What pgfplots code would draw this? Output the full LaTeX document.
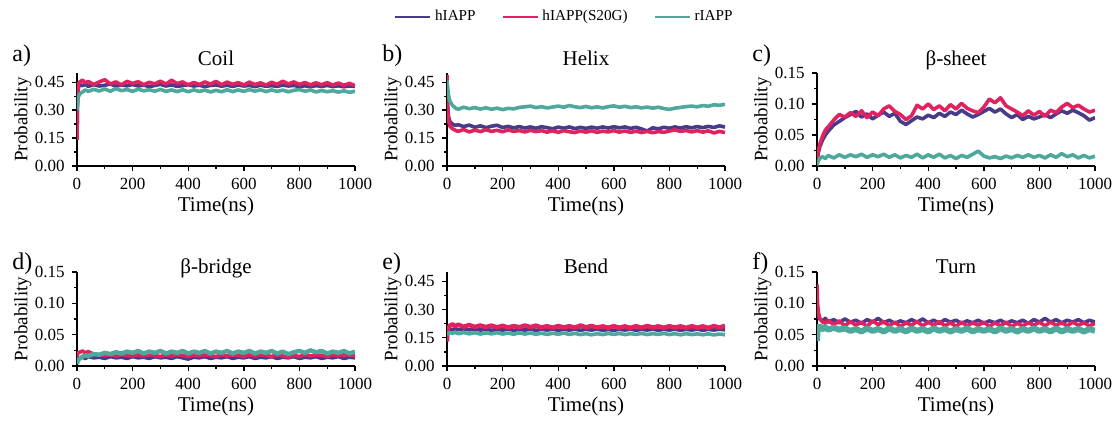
\documentclass[border=0pt]{standalone}
\usepackage{fontspec}
\setmainfont{Liberation Serif}
\usepackage{pgfplots}
\usepackage{pgfplotstable}
\pgfplotsset{compat=1.18}
\definecolor{hcol}{HTML}{4A3A8A}
\definecolor{scol}{HTML}{E2215F}
\definecolor{rcol}{HTML}{4FA89C}

% coil
\pgfplotstableread{
t h s r
0 0.150 0.140 0.300
2 0.360 0.380 0.350
5 0.420 0.440 0.372
10 0.438 0.452 0.388
20 0.432 0.462 0.398
30 0.440 0.446 0.409
40 0.428 0.455 0.401
60 0.437 0.438 0.412
80 0.430 0.452 0.403
100 0.434 0.464 0.414
120 0.441 0.441 0.402
140 0.429 0.452 0.416
160 0.436 0.436 0.405
180 0.431 0.455 0.411
200 0.438 0.444 0.401
220 0.430 0.453 0.413
240 0.435 0.437 0.404
260 0.427 0.450 0.410
280 0.433 0.441 0.402
300 0.439 0.456 0.412
320 0.430 0.440 0.401
340 0.436 0.461 0.409
360 0.428 0.443 0.400
380 0.432 0.452 0.410
400 0.437 0.436 0.399
420 0.430 0.449 0.409
440 0.434 0.438 0.401
460 0.427 0.452 0.408
480 0.433 0.440 0.398
500 0.436 0.455 0.407
520 0.429 0.437 0.399
540 0.434 0.451 0.410
560 0.428 0.439 0.400
580 0.435 0.448 0.409
600 0.430 0.436 0.401
620 0.433 0.451 0.411
640 0.427 0.438 0.402
660 0.434 0.447 0.410
680 0.429 0.435 0.400
700 0.432 0.450 0.409
720 0.428 0.439 0.401
740 0.435 0.456 0.408
760 0.430 0.441 0.399
780 0.433 0.452 0.407
800 0.427 0.438 0.411
820 0.431 0.449 0.402
840 0.426 0.436 0.408
860 0.432 0.447 0.398
880 0.428 0.437 0.406
900 0.433 0.448 0.399
920 0.427 0.435 0.405
940 0.431 0.446 0.397
960 0.426 0.434 0.404
980 0.430 0.444 0.396
1000 0.428 0.432 0.402
}\tabA

% helix
\pgfplotstableread{
t h s r
0 0.480 0.490 0.460
2 0.330 0.320 0.420
5 0.270 0.250 0.385
10 0.240 0.215 0.350
20 0.225 0.200 0.325
30 0.218 0.192 0.312
40 0.222 0.186 0.305
60 0.212 0.196 0.316
80 0.220 0.183 0.308
100 0.208 0.193 0.314
120 0.216 0.185 0.306
140 0.206 0.195 0.313
160 0.214 0.186 0.305
180 0.219 0.192 0.311
200 0.207 0.184 0.303
220 0.213 0.194 0.310
240 0.205 0.186 0.307
260 0.212 0.191 0.315
280 0.204 0.183 0.318
300 0.210 0.192 0.322
320 0.203 0.185 0.314
340 0.211 0.190 0.319
360 0.206 0.182 0.312
380 0.200 0.189 0.317
400 0.209 0.181 0.322
420 0.203 0.190 0.316
440 0.210 0.184 0.325
460 0.201 0.180 0.318
480 0.208 0.188 0.314
500 0.202 0.182 0.320
520 0.209 0.189 0.313
540 0.203 0.181 0.318
560 0.210 0.187 0.312
580 0.204 0.183 0.319
600 0.211 0.190 0.323
620 0.205 0.182 0.316
640 0.210 0.188 0.321
660 0.202 0.181 0.314
680 0.208 0.187 0.318
700 0.199 0.180 0.312
720 0.188 0.186 0.317
740 0.205 0.179 0.311
760 0.200 0.185 0.316
780 0.208 0.181 0.309
800 0.203 0.188 0.304
820 0.210 0.194 0.311
840 0.204 0.186 0.315
860 0.211 0.191 0.319
880 0.205 0.183 0.322
900 0.212 0.190 0.318
920 0.206 0.182 0.325
940 0.213 0.189 0.321
960 0.207 0.178 0.329
980 0.216 0.186 0.326
1000 0.209 0.180 0.332
}\tabB

% beta-sheet
\pgfplotstableread{
t h s r
0 0.002 0.004 0.001
2 0.012 0.016 0.005
5 0.022 0.026 0.009
10 0.031 0.035 0.012
20 0.042 0.048 0.015
30 0.050 0.058 0.012
40 0.056 0.063 0.017
60 0.066 0.074 0.013
80 0.072 0.083 0.018
100 0.078 0.079 0.014
120 0.083 0.086 0.018
140 0.088 0.080 0.015
160 0.079 0.089 0.019
180 0.084 0.078 0.014
200 0.076 0.087 0.018
220 0.082 0.081 0.015
240 0.087 0.092 0.019
260 0.080 0.097 0.014
280 0.085 0.088 0.018
300 0.072 0.083 0.013
320 0.067 0.075 0.017
340 0.073 0.081 0.014
360 0.079 0.098 0.019
380 0.076 0.092 0.013
400 0.082 0.100 0.018
420 0.078 0.091 0.014
440 0.085 0.097 0.019
460 0.080 0.089 0.013
480 0.087 0.099 0.017
500 0.083 0.092 0.012
520 0.090 0.101 0.017
540 0.084 0.093 0.014
560 0.079 0.089 0.019
580 0.083 0.086 0.024
600 0.088 0.095 0.016
620 0.093 0.108 0.013
640 0.087 0.102 0.015
660 0.092 0.110 0.012
680 0.084 0.097 0.016
700 0.078 0.092 0.013
720 0.083 0.087 0.017
740 0.075 0.081 0.014
760 0.080 0.089 0.018
780 0.076 0.082 0.014
800 0.079 0.088 0.017
820 0.083 0.080 0.013
840 0.078 0.090 0.018
860 0.084 0.086 0.014
880 0.089 0.095 0.020
900 0.085 0.101 0.015
920 0.090 0.094 0.018
940 0.086 0.098 0.013
960 0.081 0.092 0.017
980 0.074 0.087 0.013
1000 0.078 0.090 0.016
}\tabC

% beta-bridge
\pgfplotstableread{
t h s r
0 0.008 0.015 0.003
2 0.011 0.019 0.007
5 0.012 0.021 0.010
10 0.013 0.022 0.012
20 0.014 0.024 0.015
30 0.012 0.021 0.017
40 0.015 0.023 0.016
60 0.013 0.019 0.019
80 0.014 0.018 0.018
100 0.012 0.017 0.021
120 0.015 0.018 0.019
140 0.013 0.016 0.022
160 0.014 0.018 0.020
180 0.012 0.017 0.023
200 0.015 0.016 0.021
220 0.013 0.018 0.024
240 0.014 0.016 0.020
260 0.012 0.018 0.023
280 0.015 0.017 0.021
300 0.013 0.015 0.024
320 0.014 0.018 0.020
340 0.012 0.016 0.023
360 0.015 0.018 0.021
380 0.013 0.017 0.024
400 0.011 0.015 0.020
420 0.014 0.018 0.023
440 0.013 0.016 0.021
460 0.015 0.018 0.024
480 0.012 0.017 0.020
500 0.014 0.015 0.023
520 0.013 0.018 0.021
540 0.015 0.016 0.024
560 0.012 0.018 0.020
580 0.014 0.017 0.023
600 0.013 0.015 0.021
620 0.015 0.018 0.024
640 0.012 0.016 0.020
660 0.014 0.018 0.023
680 0.013 0.017 0.021
700 0.015 0.015 0.024
720 0.012 0.018 0.020
740 0.014 0.016 0.023
760 0.013 0.014 0.019
780 0.015 0.017 0.022
800 0.012 0.015 0.024
820 0.014 0.018 0.021
840 0.013 0.016 0.025
860 0.015 0.018 0.022
880 0.012 0.017 0.024
900 0.014 0.015 0.020
920 0.013 0.018 0.023
940 0.015 0.016 0.021
960 0.012 0.018 0.024
980 0.014 0.017 0.020
1000 0.013 0.016 0.023
}\tabD

% bend
\pgfplotstableread{
t h s r
0 0.170 0.130 0.165
2 0.185 0.180 0.170
5 0.192 0.205 0.175
10 0.196 0.215 0.178
20 0.194 0.222 0.174
30 0.199 0.212 0.179
40 0.193 0.220 0.172
60 0.198 0.209 0.178
80 0.192 0.218 0.171
100 0.197 0.208 0.177
120 0.191 0.216 0.170
140 0.196 0.207 0.176
160 0.190 0.215 0.171
180 0.195 0.206 0.177
200 0.191 0.214 0.170
220 0.196 0.205 0.175
240 0.190 0.213 0.169
260 0.195 0.206 0.176
280 0.191 0.216 0.170
300 0.196 0.207 0.175
320 0.190 0.215 0.169
340 0.195 0.205 0.174
360 0.191 0.212 0.168
380 0.196 0.204 0.174
400 0.190 0.213 0.169
420 0.195 0.205 0.175
440 0.191 0.212 0.168
460 0.196 0.204 0.173
480 0.190 0.216 0.167
500 0.195 0.206 0.172
520 0.191 0.213 0.166
540 0.196 0.205 0.172
560 0.190 0.211 0.167
580 0.194 0.204 0.173
600 0.190 0.212 0.168
620 0.195 0.204 0.173
640 0.191 0.211 0.167
660 0.196 0.203 0.172
680 0.190 0.212 0.168
700 0.195 0.204 0.173
720 0.191 0.213 0.167
740 0.196 0.205 0.172
760 0.190 0.211 0.168
780 0.195 0.204 0.173
800 0.191 0.212 0.167
820 0.196 0.205 0.172
840 0.190 0.211 0.166
860 0.195 0.203 0.172
880 0.191 0.212 0.167
900 0.196 0.204 0.171
920 0.190 0.211 0.166
940 0.195 0.203 0.171
960 0.191 0.213 0.165
980 0.196 0.204 0.170
1000 0.192 0.215 0.166
}\tabE

% turn
\pgfplotstableread{
t h s r
0 0.090 0.130 0.040
2 0.082 0.100 0.055
5 0.078 0.085 0.062
10 0.075 0.076 0.063
20 0.072 0.070 0.059
30 0.076 0.068 0.062
40 0.070 0.073 0.058
60 0.074 0.066 0.061
80 0.069 0.072 0.058
100 0.075 0.064 0.060
120 0.070 0.071 0.056
140 0.073 0.065 0.059
160 0.068 0.070 0.055
180 0.074 0.063 0.060
200 0.070 0.072 0.056
220 0.076 0.066 0.059
240 0.069 0.071 0.055
260 0.073 0.064 0.060
280 0.068 0.070 0.056
300 0.072 0.063 0.059
320 0.069 0.069 0.055
340 0.074 0.065 0.060
360 0.070 0.071 0.056
380 0.075 0.064 0.059
400 0.069 0.070 0.055
420 0.073 0.065 0.060
440 0.068 0.071 0.056
460 0.074 0.064 0.059
480 0.070 0.069 0.055
500 0.073 0.063 0.059
520 0.068 0.070 0.056
540 0.072 0.064 0.060
560 0.069 0.069 0.055
580 0.073 0.065 0.059
600 0.068 0.070 0.056
620 0.072 0.063 0.059
640 0.069 0.069 0.055
660 0.073 0.064 0.060
680 0.068 0.070 0.056
700 0.072 0.063 0.059
720 0.069 0.068 0.055
740 0.073 0.064 0.059
760 0.068 0.069 0.056
780 0.074 0.065 0.060
800 0.070 0.070 0.056
820 0.076 0.064 0.059
840 0.070 0.070 0.055
860 0.074 0.065 0.060
880 0.069 0.069 0.055
900 0.073 0.064 0.059
920 0.070 0.070 0.056
940 0.074 0.065 0.059
960 0.069 0.069 0.055
980 0.073 0.064 0.059
1000 0.070 0.068 0.056
}\tabF

\pgfplotsset{
  panel/.style={
    scale only axis, width=139pt, height=46.5pt,
    anchor=south west, clip mode=individual,
    xmin=0, xmax=1000, ymin=0,
    axis x line*=bottom, axis y line*=left,
    axis line style={line width=0.9pt},
    tick style={line width=0.7pt, black},
    tick align=outside, major tick length=2.6pt, minor tick length=1.5pt,
    xtick={0,200,...,1000}, minor x tick num=1, minor y tick num=1,
    scaled ticks=false,
    /pgf/number format/assume math mode=true,
    tick label style={font=\fontsize{8.5}{9}\selectfont},
    xticklabel style={/pgf/number format/1000 sep={}},
    yticklabel style={/pgf/number format/.cd, fixed, fixed zerofill, precision=2},
    xlabel={Time(ns)}, ylabel={Probability},
    every axis x label/.style={at={(axis description cs:0.5,-0.43)}, anchor=center, font=\fontsize{10.5}{11}\selectfont},
    every axis y label/.style={at={(axis description cs:-0.195,0.5)}, rotate=90, anchor=center, font=\fontsize{9.5}{10}\selectfont},
    every axis plot/.append style={line width=1.8pt, line join=round, no marks},
  },
  big/.style={ymax=0.5, ytick={0,0.15,0.30,0.45}},
  small/.style={ymax=0.15, ytick={0,0.05,0.10,0.15}},
}
\newcommand{\panellab}[3]{%
  \node[anchor=base west, font=\fontsize{12}{12}\selectfont, inner sep=0pt] at (rel axis cs:0,1) [xshift=-32.5pt, yshift=#3] {#1};
  \node[anchor=base, font=\fontsize{10.5}{11}\selectfont, inner sep=0pt] at (rel axis cs:0.5,1) [yshift=#3-2pt] {#2};
}

\begin{document}
\begin{tikzpicture}
\useasboundingbox (0,0) rectangle (560pt,210.5pt);

\begin{axis}[panel, big, at={(38.5pt,127.5pt)}]
\addplot[hcol] table[x=t,y=h]{\tabA};
\addplot[scol] table[x=t,y=s]{\tabA};
\addplot[rcol] table[x=t,y=r]{\tabA};
\panellab{a)}{Coil}{5.5pt}
\end{axis}

\begin{axis}[panel, big, at={(223.5pt,127.5pt)},
  legend columns=3,
  legend style={draw=none, fill=none, at={(axis description cs:0.426,1.60)}, anchor=center,
    font=\fontsize{7.6}{8}\selectfont, /tikz/every even column/.append style={column sep=11pt}},
  legend image code/.code={\draw[#1, line width=0.9pt] (0pt,0pt) -- (17.5pt,0pt);}]
\addplot[hcol] table[x=t,y=h]{\tabB};
\addplot[scol] table[x=t,y=s]{\tabB};
\addplot[rcol] table[x=t,y=r]{\tabB};
\legend{hIAPP, hIAPP(S20G), rIAPP}
\panellab{b)}{Helix}{5.5pt}
\end{axis}

\begin{axis}[panel, small, at={(408.5pt,127.5pt)}]
\addplot[hcol] table[x=t,y=h]{\tabC};
\addplot[scol] table[x=t,y=s]{\tabC};
\addplot[rcol] table[x=t,y=r]{\tabC};
\panellab{c)}{β-sheet}{5.5pt}
\end{axis}

\begin{axis}[panel, small, height=47pt, at={(38.5pt,27.5pt)}]
\addplot[hcol] table[x=t,y=h]{\tabD};
\addplot[scol] table[x=t,y=s]{\tabD};
\addplot[rcol, line width=2.2pt] table[x=t,y=r]{\tabD};
\panellab{d)}{β-bridge}{1pt}
\end{axis}

\begin{axis}[panel, big, height=47pt, at={(223.5pt,27.5pt)}]
\addplot[hcol] table[x=t,y=h]{\tabE};
\addplot[scol, line width=2.2pt] table[x=t,y=s]{\tabE};
\addplot[rcol] table[x=t,y=r]{\tabE};
\panellab{e)}{Bend}{1pt}
\end{axis}

\begin{axis}[panel, small, height=47pt, at={(408.5pt,27.5pt)}]
\addplot[hcol] table[x=t,y=h]{\tabF};
\addplot[scol] table[x=t,y=s]{\tabF};
\addplot[rcol, line width=3pt] table[x=t,y=r]{\tabF};
\panellab{f)}{Turn}{1pt}
\end{axis}
\end{tikzpicture}
\end{document}
